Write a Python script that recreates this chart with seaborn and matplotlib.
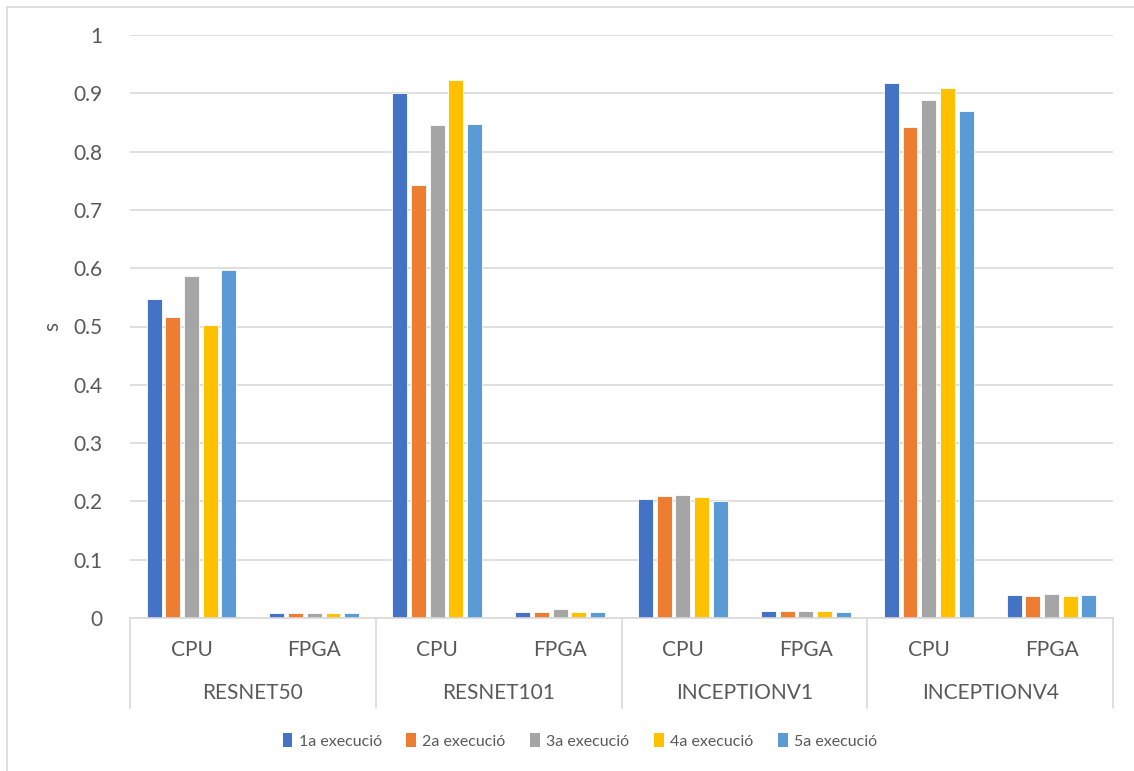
import numpy as np
import pandas as pd
import matplotlib
matplotlib.use("Agg")
import matplotlib.pyplot as plt
import matplotlib.transforms as mtransforms
from matplotlib.patches import Rectangle
import seaborn as sns

models = ["RESNET50", "RESNET101", "INCEPTIONV1", "INCEPTIONV4"]
devices = ["CPU", "FPGA"]
runs = ["1a execució", "2a execució", "3a execució", "4a execució", "5a execució"]
exec1 = [0.547, 0.009, 0.900, 0.010, 0.204, 0.012, 0.917, 0.040]
exec2 = [0.517, 0.009, 0.742, 0.010, 0.210, 0.012, 0.843, 0.038]
exec3 = [0.587, 0.009, 0.846, 0.015, 0.211, 0.012, 0.889, 0.041]
exec4 = [0.503, 0.009, 0.922, 0.010, 0.208, 0.012, 0.909, 0.038]
exec5 = [0.597, 0.009, 0.848, 0.010, 0.200, 0.011, 0.869, 0.039]
colors = ["#4472C4", "#ED7D31", "#A5A5A5", "#FFC000", "#5B9BD5"]
y_ticks = [0, 0.1, 0.2, 0.3, 0.4, 0.5, 0.6, 0.7, 0.8, 0.9, 1]
y_tick_labels = ["0", "0.1", "0.2", "0.3", "0.4", "0.5", "0.6", "0.7", "0.8", "0.9", "1"]
y_label = "s"

sns.set_theme(style="white")
plt.rcParams["font.family"] = ["Lato", "DejaVu Sans"]
txt = "#595959"
grid_c = "#D9D9D9"

keys = [f"{m} {d}" for m in models for d in devices]
rows = []
for run, vals in zip(runs, [exec1, exec2, exec3, exec4, exec5]):
    for k, v in zip(keys, vals):
        rows.append({"key": k, "run": run, "value": v})
df = pd.DataFrame(rows)

W, H = 1134, 771
fig = plt.figure(figsize=(W / 100, H / 100), dpi=100)
ax = fig.add_axes([130 / W, (H - 618) / H, (1113 - 130) / W, (618 - 35) / H])

sns.barplot(data=df, x="key", y="value", hue="run", order=keys, hue_order=runs,
            palette=colors, width=0.76, gap=0.2, ax=ax, errorbar=None,
            edgecolor="white", linewidth=0.6, saturation=1, legend=False)

ax.set_ylim(0, 1)
ax.set_xlim(-0.5, len(keys) - 0.5)
ax.set_yticks(y_ticks)
ax.set_yticklabels(y_tick_labels, fontsize=15, color=txt)
ax.tick_params(axis="y", length=0, pad=20)
ax.set_xticks(range(len(keys)))
ax.set_xticklabels(devices * len(models), fontsize=15, color=txt)
ax.tick_params(axis="x", length=0, pad=16)
ax.set_xlabel("")
ax.set_ylabel(y_label, fontsize=15, color=txt, labelpad=8)
ax.yaxis.grid(True, color=grid_c, linewidth=1.2)
ax.set_axisbelow(True)
for s in ["top", "right", "left"]:
    ax.spines[s].set_visible(False)
ax.spines["bottom"].set_color(grid_c)
ax.spines["bottom"].set_linewidth(1.2)

trans = mtransforms.blended_transform_factory(ax.transData, ax.transAxes)
sep_bottom = -(708 - 618) / (618 - 35)
for i in range(len(models) + 1):
    xpos = -0.5 + 2 * i
    ax.plot([xpos, xpos], [0, sep_bottom], transform=trans, color=grid_c,
            linewidth=1.2, clip_on=False)
for i, m in enumerate(models):
    ax.text(0.5 + 2 * i, -(693 - 618) / (618 - 35), m, transform=trans,
            ha="center", va="center", fontsize=15, color=txt)

handles = [Rectangle((0, 0), 1, 1, facecolor=c, edgecolor="none") for c in colors]
fig.legend(handles, runs, loc="center", bbox_to_anchor=(580 / W, (H - 741) / H),
           ncol=5, frameon=False, fontsize=11.5, handlelength=0.6, handleheight=0.9,
           handletextpad=0.4, columnspacing=1.55, labelcolor=txt)

fig.patches.append(Rectangle((7 / W, -0.1), 1.2, (H - 7) / H + 0.1, transform=fig.transFigure,
                             fill=False, edgecolor="#D9D9D9", linewidth=1.2))

fig.savefig("out.png", dpi=100, facecolor="white")
